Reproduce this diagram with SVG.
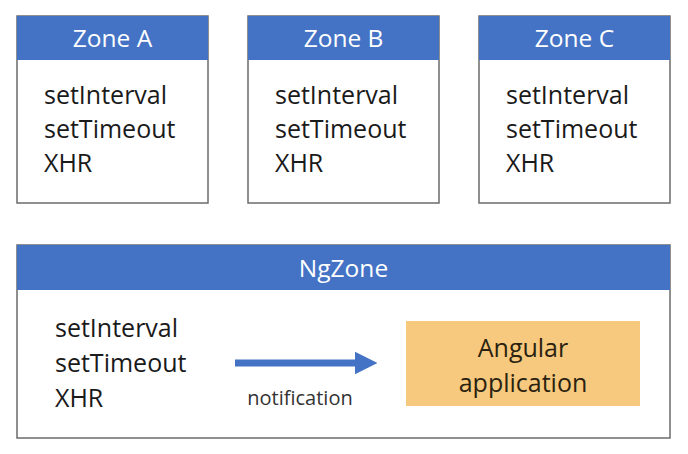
<svg xmlns="http://www.w3.org/2000/svg" width="688" height="454" viewBox="0 0 688 454">
<style>
.box{fill:#fff;stroke:#6b6b6b;stroke-width:1.5}
.hdr{fill:#4472C4}
.ht{font-family:"Open Sans","Liberation Sans",sans-serif;font-size:24.5px;fill:#fff;text-anchor:middle}
.bt{font-family:"Open Sans","Liberation Sans",sans-serif;font-size:25px;fill:#1a1a1a}
.nt{font-family:"Open Sans","Liberation Sans",sans-serif;font-size:20px;fill:#333}
.at{font-family:"Open Sans","Liberation Sans",sans-serif;font-size:25px;fill:#2a2210;text-anchor:middle}
</style>
<defs>
<marker id="ah" viewBox="0 0 10 10" refX="0" refY="5" markerWidth="3.2" markerHeight="3.3" markerUnits="strokeWidth" orient="auto">
<path d="M0,0 L10,5 L0,10 z" fill="#4472C4"/>
</marker>
</defs>
<rect width="688" height="454" fill="#fff"/>
<g id="zoneA">
<rect class="box" x="17" y="16" width="191" height="187"/>
<rect class="hdr" x="17" y="16" width="191" height="44"/>
<text class="ht" x="112.5" y="47">Zone A</text>
<text class="bt" x="44" y="104">setInterval</text>
<text class="bt" x="44" y="138">setTimeout</text>
<text class="bt" x="44" y="172">XHR</text>
</g>
<g id="zoneB">
<rect class="box" x="248" y="16" width="191" height="187"/>
<rect class="hdr" x="248" y="16" width="191" height="44"/>
<text class="ht" x="343.5" y="47">Zone B</text>
<text class="bt" x="275" y="104">setInterval</text>
<text class="bt" x="275" y="138">setTimeout</text>
<text class="bt" x="275" y="172">XHR</text>
</g>
<g id="zoneC">
<rect class="box" x="479" y="16" width="191" height="187"/>
<rect class="hdr" x="479" y="16" width="191" height="44"/>
<text class="ht" x="574.5" y="47">Zone C</text>
<text class="bt" x="506" y="104">setInterval</text>
<text class="bt" x="506" y="138">setTimeout</text>
<text class="bt" x="506" y="172">XHR</text>
</g>
<g id="ngzone">
<rect class="box" x="17" y="245" width="653" height="193"/>
<rect class="hdr" x="17" y="245" width="653" height="45"/>
<text class="ht" x="343.5" y="277">NgZone</text>
<text class="bt" x="55" y="337">setInterval</text>
<text class="bt" x="55" y="372">setTimeout</text>
<text class="bt" x="55" y="407">XHR</text>
</g>
<g id="angular">
<rect x="406" y="321" width="234" height="85" fill="#F7C97E"/>
<text class="at" x="523" y="357">Angular</text>
<text class="at" x="523" y="392">application</text>
</g>
<g id="connectors">
<line x1="235" y1="363" x2="355" y2="363" stroke="#4472C4" stroke-width="7" marker-end="url(#ah)"/>
<text class="nt" x="300" y="405" text-anchor="middle">notification</text>
</g>
</svg>
